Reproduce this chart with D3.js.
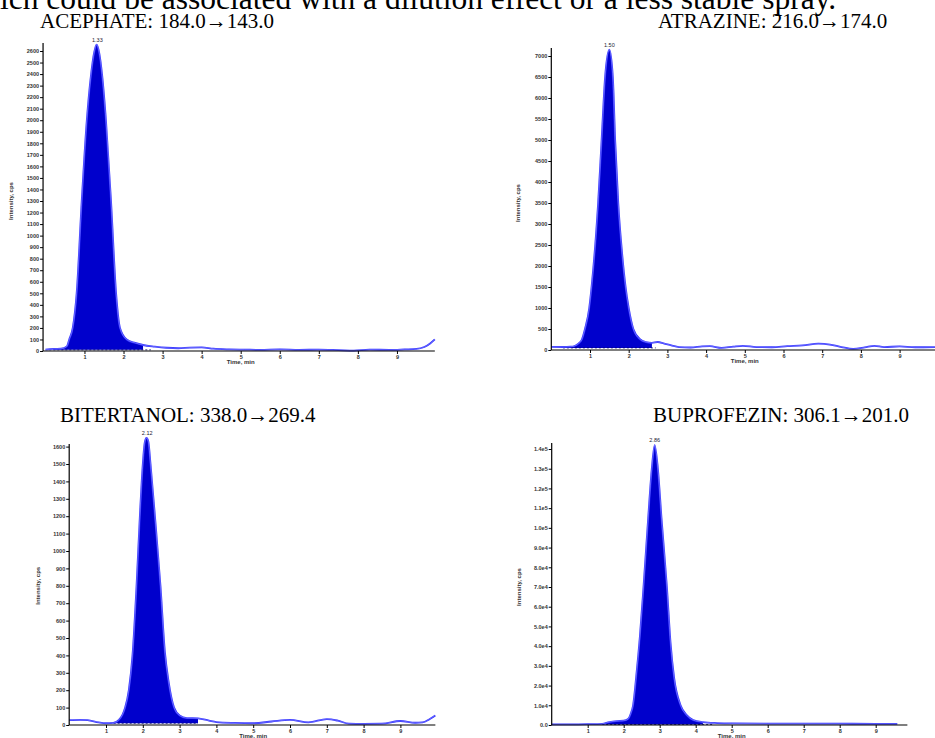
<!DOCTYPE html>
<html>
<head>
<meta charset="utf-8">
<script src="https://cdn.jsdelivr.net/npm/d3@7"></script>
<style>
  body { margin:0; background:#fff; }
  svg { display:block; }
  .tick text { font-family: Arial, "Liberation Sans", sans-serif; font-weight:bold; fill:#333; }
</style>
</head>
<body>
<svg id="chart" width="935" height="738"></svg>
<script>
/* Four MRM chromatograms (Analyst style): filled peak + raw trace per panel. */

const titles = ["ACEPHATE: 184.0\u2192143.0", "ATRAZINE: 216.0\u2192174.0",
                "BITERTANOL: 338.0\u2192269.4", "BUPROFEZIN: 306.1\u2192201.0"];
const peakRT = [1.33, 1.50, 2.12, 2.86];
const timeTicks = [1, 2, 3, 4, 5, 6, 7, 8, 9];

// time (min) / intensity (cps)
const acephateT   = [0.0,0.2,0.4,0.55,0.61,0.70,0.80,0.93,1.06,1.17,1.25,1.31,1.38,1.45,1.55,1.68,1.81,1.91,2.08,2.3,2.5,2.8,3.1,3.4,3.7,4.0,4.3,4.7,5.1,5.5,6.0,6.5,7.0,7.5,7.9,8.3,8.8,9.2,9.5,9.7,9.85,9.97];
const acephateCps = [12,18,20,40,100,200,500,1300,2000,2400,2590,2655,2580,2400,2000,1300,500,200,100,70,52,38,28,24,30,32,20,14,12,10,14,10,12,8,4,12,10,14,18,35,65,100];

const atrazineT   = [0.0,0.3,0.5,0.6,0.7,0.79,0.87,0.98,1.04,1.21,1.30,1.39,1.50,1.59,1.65,1.73,1.82,1.92,2.0,2.12,2.3,2.45,2.6,2.75,2.9,3.1,3.3,3.6,3.9,4.1,4.4,4.7,4.95,5.3,5.7,6.1,6.5,6.9,7.2,7.5,7.8,8.1,8.35,8.6,9.0,9.4,9.97];
const atrazineCps = [75,72,78,95,150,250,500,1000,1500,3500,5000,6500,7150,6500,5000,3500,2400,1500,1000,500,250,190,170,190,160,110,70,60,85,90,50,80,100,70,65,90,110,150,130,70,25,60,100,70,85,65,70];

const bitertanolT   = [0.0,0.3,0.5,0.8,1.0,1.2,1.35,1.45,1.52,1.62,1.72,1.83,1.92,2.0,2.05,2.10,2.15,2.21,2.33,2.48,2.6,2.7,2.85,3.0,3.2,3.5,3.8,4.0,4.5,5.0,5.5,6.0,6.5,7.0,7.3,7.6,8.0,8.5,9.0,9.4,9.6,9.8,9.95];
const bitertanolCps = [28,30,28,15,10,12,30,60,100,200,400,800,1200,1500,1620,1650,1630,1500,1200,800,420,250,100,55,40,38,25,17,12,10,20,29,15,34,25,8,7,8,23,13,15,35,55];

const buprofezinT   = [0.0,0.5,1.0,1.4,1.6,1.8,2.0,2.12,2.2,2.26,2.35,2.45,2.55,2.68,2.78,2.86,2.95,3.05,3.2,3.3,3.4,3.58,3.75,3.93,4.2,4.6,5.0,6.0,7.0,8.0,9.0,9.6];
const buprofezinCps = [300,300,400,600,1500,2000,2200,3000,6000,10000,25000,45000,70000,105000,130000,142000,130000,105000,70000,42000,24000,10000,5000,2500,1500,1000,800,700,700,650,600,600];

// panel layout: x origin & px/min, y pixel range, integration window
const panels = [
  { t: acephateT,   v: acephateCps,   title: titles[0], rt: peakRT[0], tx: 40,  ty: 28,
    x0: 45.4, k: 39.06, tMin: -0.06, tMax: 9.97, yMax: 2600, yTop: 51, yBot: 351, axTop: 43,
    major: 100, minor: 50, fill: [0.1, 2.7], base: 10, fmt: d3.format("d"), labX: 13 },
  { t: atrazineT,   v: atrazineCps,   title: titles[1], rt: peakRT[1], tx: 658, ty: 28,
    x0: 551.3, k: 38.7, tMin: 0, tMax: 9.98, yMax: 7000, yTop: 56, yBot: 350, axTop: 48,
    major: 500, minor: 100, fill: [0.3, 2.7], base: 50, fmt: d3.format("d"), labX: 520 },
  { t: bitertanolT, v: bitertanolCps, title: titles[2], rt: peakRT[2], tx: 60,  ty: 421.5,
    x0: 69.2, k: 36.8, tMin: 0, tMax: 9.95, yMax: 1600, yTop: 446.6, yBot: 725, axTop: 444,
    major: 100, minor: 50, fill: [1.1, 3.5], base: 10, fmt: d3.format("d"), labX: 40 },
  { t: buprofezinT, v: buprofezinCps, title: titles[3], rt: peakRT[3], tx: 653, ty: 421.5,
    x0: 551.7, k: 36, tMin: 0, tMax: 9.88, yMax: 140000, yTop: 449, yBot: 725, axTop: 443,
    major: 10000, minor: 5000, fill: [1.4, 4.5], base: 300,
    fmt: v => v === 0 ? "0.0" : d3.format(".1e")(v).replace("+", ""), labX: 521 }
];

const svg = d3.select("#chart");

svg.append("text")
  .attr("x", 0).attr("y", 9)
  .style("font-family", "'Liberation Serif', 'Times New Roman', serif")
  .style("font-size", "31.5px")
  .text("ich could be associated with a dilution effect or a less stable spray.");

panels.forEach(p => {
  const g = svg.append("g");
  const x = d3.scaleLinear().domain([0, 10]).range([p.x0, p.x0 + 10 * p.k]);
  const y = d3.scaleLinear().domain([0, p.yMax]).range([p.yBot, p.yTop]);
  const pts = p.t.map((t, i) => [t, p.v[i]]);

  g.append("text")
    .attr("x", p.tx).attr("y", p.ty)
    .style("font-family", "'Liberation Serif', 'Times New Roman', serif")
    .style("font-size", "21px")
    .text(p.title);

  // filled peak
  const inPeak = pts.filter(d => d[0] >= p.fill[0] && d[0] <= p.fill[1]);
  g.append("path")
    .datum(inPeak)
    .attr("fill", "#0000cc")
    .attr("d", d3.area().curve(d3.curveMonotoneX)
      .x(d => x(d[0])).y0(y(p.base)).y1(d => y(d[1])));

  // integration baseline
  g.append("line")
    .attr("x1", x(p.fill[0])).attr("x2", x(p.fill[1]))
    .attr("y1", y(p.base)).attr("y2", y(p.base))
    .attr("stroke", "#000066").attr("stroke-width", 0.8).attr("stroke-dasharray", "2,2");

  // raw trace (drawn as a double line)
  const line = d3.line().curve(d3.curveMonotoneX).x(d => x(d[0])).y(d => y(d[1]));
  g.append("path").datum(pts).attr("fill", "none")
    .attr("stroke", "#2b2bff").attr("stroke-width", 1.8).attr("d", line);
  g.append("path").datum(pts).attr("fill", "none")
    .attr("stroke", "#ffffff").attr("stroke-opacity", 0.55).attr("stroke-width", 0.5).attr("d", line);

  // axes
  const yAx = g.append("g").attr("transform", "translate(" + x(p.tMin) + ",0)");
  yAx.call(d3.axisLeft(y).tickValues(d3.range(0, p.yMax + 1, p.minor)).tickSize(2).tickFormat(""));
  yAx.call(d3.axisLeft(y).tickValues(d3.range(0, p.yMax + 1, p.major)).tickSize(3).tickPadding(1).tickFormat(p.fmt));
  yAx.selectAll(".domain").remove();
  yAx.selectAll(".tick line").attr("stroke", "#000");
  yAx.selectAll(".tick text").style("font-size", "5.5px");
  yAx.append("line").attr("y1", p.axTop).attr("y2", p.yBot).attr("stroke", "#000").attr("stroke-width", 1.2);

  const xAx = g.append("g").attr("transform", "translate(0," + p.yBot + ")");
  xAx.call(d3.axisBottom(x).tickValues(d3.range(0.5, p.tMax, 0.5)).tickSize(2).tickFormat(""));
  xAx.call(d3.axisBottom(x).tickValues(timeTicks).tickSize(3).tickPadding(1).tickFormat(d3.format("d")));
  xAx.selectAll(".domain").remove();
  xAx.selectAll(".tick line").attr("stroke", "#000");
  xAx.selectAll(".tick text").style("font-size", "5.5px");
  xAx.append("line").attr("x1", x(p.tMin)).attr("x2", x(p.tMax)).attr("stroke", "#000").attr("stroke-width", 1.2);

  const small = "Arial, 'Liberation Sans', sans-serif";
  g.append("text")
    .attr("x", x(5)).attr("y", p.yBot + 13)
    .attr("text-anchor", "middle")
    .style("font-family", small).style("font-size", "6px").style("font-weight", "bold").style("fill", "#333")
    .text("Time, min");

  g.append("text")
    .attr("transform", "translate(" + p.labX + "," + ((p.yTop + p.yBot) / 2) + ") rotate(-90)")
    .attr("text-anchor", "middle")
    .style("font-family", small).style("font-size", "6px").style("font-weight", "bold").style("fill", "#333")
    .text("Intensity, cps");

  // apex label
  const apex = d3.max(p.v);
  g.append("text")
    .attr("x", x(p.rt)).attr("y", y(apex) - 3)
    .attr("text-anchor", "middle")
    .style("font-family", small).style("font-size", "5.5px").style("fill", "#223")
    .text(d3.format(".2f")(p.rt));
});
</script>
</body>
</html>
